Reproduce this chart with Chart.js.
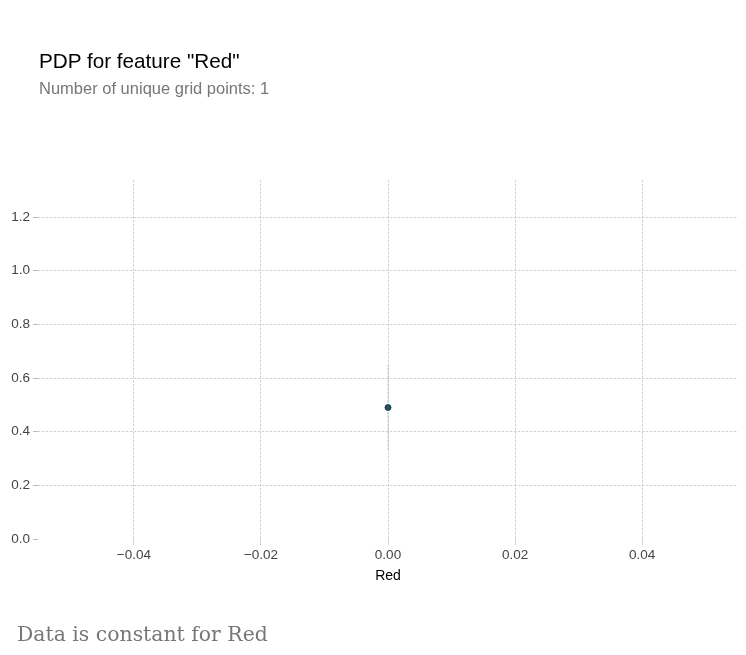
<!DOCTYPE html>
<html><head><meta charset="utf-8">
<script src="https://cdn.jsdelivr.net/npm/chart.js"></script>
<style>
body{margin:0;background:#fff;}
#wrap{position:relative;width:746px;height:655px;}
.t{position:absolute;white-space:nowrap;}
</style></head><body>
<div id="wrap">
<canvas id="c" width="746" height="655"></canvas>
<div class="t" style="left:39px;top:49px;font:20.7px 'Liberation Sans',Arial,sans-serif;color:#000;">PDP for feature "Red"</div>
<div class="t" style="left:39px;top:79px;font:16.5px 'Liberation Sans',Arial,sans-serif;color:#777;">Number of unique grid points: 1</div>
<div class="t" style="left:17px;top:622px;font:20.4px 'DejaVu Serif','Liberation Serif',serif;color:#777;">Data is constant for Red</div>
</div>
<script>
const featureName = "Red";
const gridX = [0];
const pdpY = [0.49];
const bandX = [0, 0];
const bandY = [0.33, 0.65];
const xTicks = [-0.04, -0.02, 0, 0.02, 0.04];
const yTicks = [0, 0.2, 0.4, 0.6, 0.8, 1.0, 1.2];

new Chart(document.getElementById('c'), {
  type: 'scatter',
  data: { datasets: [
    { data: bandX.map((x,i)=>({x, y: bandY[i]})), showLine: true, pointRadius: 0, borderColor: 'rgba(100,160,180,0.35)', borderWidth: 1 },
    { data: gridX.map((x,i)=>({x, y: pdpY[i]})), pointRadius: 3, backgroundColor: '#1f4354', borderColor: '#1f4354' }
  ]},
  options: {
    responsive: false, animation: false,
    layout: { padding: { top: 180, right: 8, bottom: 66, left: 0 } },
    plugins: { legend: { display: false }, tooltip: { enabled: false } },
    scales: {
      x: {
        type: 'linear', min: -0.0551, max: 0.0551,
        afterBuildTicks: a => { a.ticks = xTicks.map(v => ({ value: v })); },
        afterFit: a => { a.height = 50; },
        ticks: { callback: v => v.toFixed(2).replace('-', '\u2212'), color: '#444', font: { family: 'Liberation Sans', size: 13.5 }, maxRotation: 0, padding: 2 },
        grid: { color: '#c4c4c4', lineWidth: 0.8, drawTicks: true, tickLength: 6, tickColor: '#c4c4c4' },
        border: { display: false, dash: [2.5,1.5] },
        title: { display: true, text: featureName, color: '#000', font: { family: 'Liberation Sans', size: 14 }, padding: { top: 2 } }
      },
      y: {
        type: 'linear', min: 0, max: 1.338,
        afterBuildTicks: a => { a.ticks = yTicks.map(v => ({ value: v })); },
        afterFit: a => { a.width = 38; },
        ticks: { callback: v => v.toFixed(1), color: '#444', font: { family: 'Liberation Sans', size: 13.5 }, padding: 3 },
        grid: { color: c => c.tick && c.tick.value === 0 ? 'rgba(0,0,0,0)' : '#c4c4c4', lineWidth: 0.8, tickColor: '#aaa', tickLength: 5, drawTicks: true },
        border: { display: false, dash: [2.5,1.5] }
      }
    }
  }
});
</script>
</body></html>
